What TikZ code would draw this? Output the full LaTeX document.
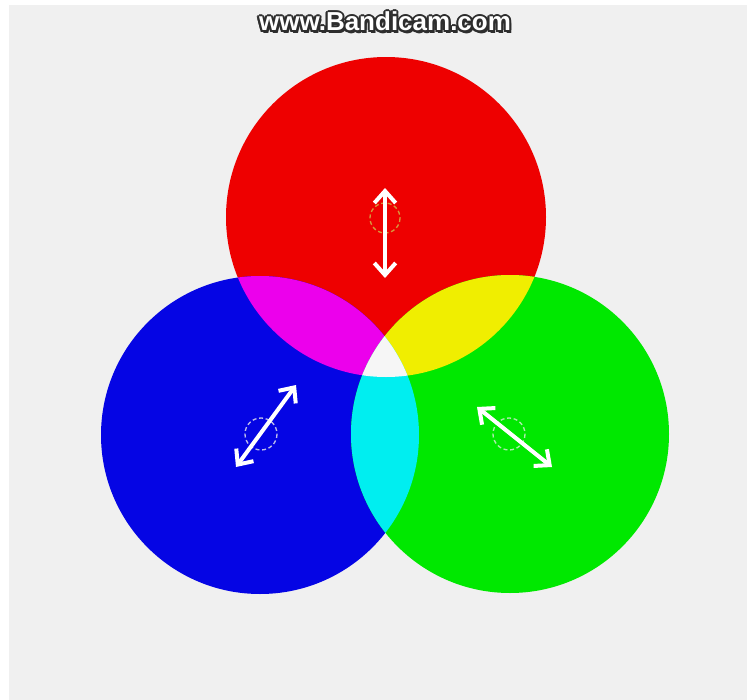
\documentclass[tikz,border=0pt]{standalone}
\usepackage{fontspec}
\setmainfont{Liberation Sans}
\usetikzlibrary{arrows.meta}
\definecolor{bggray}{RGB}{240,240,240}
\definecolor{cred}{RGB}{238,0,0}
\definecolor{cblue}{RGB}{5,5,228}
\definecolor{cgreen}{RGB}{0,232,0}
\definecolor{cmag}{RGB}{236,0,236}
\definecolor{cyel}{RGB}{240,238,0}
\definecolor{ccyan}{RGB}{0,238,240}
\definecolor{cwhite}{RGB}{246,246,246}
\definecolor{dashorange}{RGB}{215,150,60}
\definecolor{dashblue}{RGB}{190,190,235}
\definecolor{dashgreen}{RGB}{175,235,175}
\definecolor{wmdark}{RGB}{45,45,45}
\newcommand{\wmtext}{www.Bandicam.com}
\newcommand{\wmlayer}[2]{\makebox[0pt][l]{\hspace*{#1}\raisebox{#2}{\color{wmdark}\wmtext}}}
\tikzset{
  dblarrow/.style={draw=white, line width=3pt, {Straight Barb[length=9pt,width=16pt]}-{Straight Barb[length=9pt,width=16pt]}},
  dashcirc/.style={line width=1pt, dash pattern=on 3pt off 2pt},
  wm/.style={font=\bfseries\fontsize{19.5}{19.5}\selectfont, inner sep=0pt}
}
\begin{document}
\begin{tikzpicture}[x=0.75pt,y=-0.75pt]
\useasboundingbox (0,0) rectangle (747,700);
\fill[white] (0,0) rectangle (747,700);
\fill[bggray] (9,5) rectangle (747,700);
% centers
\coordinate (R) at (386,217);
\coordinate (B) at (260,435);
\coordinate (G) at (510,434);
% base circles
\fill[cred] (R) circle (160);
\fill[cblue] (B) circle (159);
\fill[cgreen] (G) circle (159);
% overlaps
\begin{scope}
  \clip (R) circle (160);
  \fill[cmag] (B) circle (159);
\end{scope}
\begin{scope}
  \clip (R) circle (160);
  \fill[cyel] (G) circle (159);
\end{scope}
\begin{scope}
  \clip (B) circle (159);
  \fill[ccyan] (G) circle (159);
\end{scope}
\begin{scope}
  \clip (R) circle (160);
  \clip (B) circle (159);
  \fill[cwhite] (G) circle (159);
\end{scope}
% dashed rings
\draw[dashcirc, draw=dashorange] (385,218) circle (15);
\draw[dashcirc, draw=dashblue] (261,434) circle (16);
\draw[dashcirc, draw=dashgreen] (509,434) circle (16);
% arrows
\coordinate (ra1) at (385,188);
\coordinate (ra2) at (385,278);
\coordinate (ba1) at (296,385);
\coordinate (ba2) at (236,467);
\coordinate (ga1) at (477,407);
\coordinate (ga2) at (552,467);
\draw[dblarrow] (ra1) -- (ra2);
\draw[dblarrow] (ba1) -- (ba2);
\draw[dblarrow] (ga1) -- (ga2);
% watermark (outlined text in one node)
\node[wm] (wmk) at (385,22) {%
  \wmlayer{-1.6pt}{0pt}\wmlayer{1.6pt}{0pt}\wmlayer{0pt}{1.6pt}\wmlayer{0pt}{-1.6pt}%
  \wmlayer{-1.2pt}{1.2pt}\wmlayer{1.2pt}{1.2pt}\wmlayer{-1.2pt}{-1.2pt}\wmlayer{1.2pt}{-1.2pt}%
  \wmlayer{0.8pt}{-2.4pt}\wmlayer{1.6pt}{-2.2pt}%
  \textcolor{white}{\wmtext}};
\end{tikzpicture}
\end{document}
